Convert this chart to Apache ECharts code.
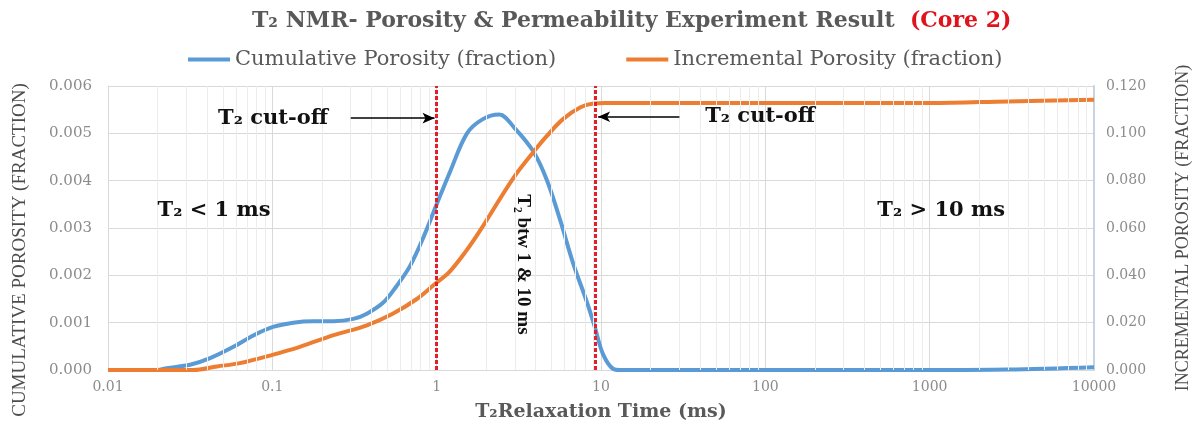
<!DOCTYPE html>
<html>
<head>
<meta charset="utf-8">
<script src="https://cdn.jsdelivr.net/npm/echarts@6/dist/echarts.min.js"></script>
<style>
  html, body { margin: 0; padding: 0; background: #fff; }
  #chart { width: 1201px; height: 427px; }
</style>
</head>
<body>
<div id="chart"></div>
<script>
// T2 relaxation time (ms) and porosity readings
const cumX = [0.01, 0.02, 0.0228, 0.0316, 0.0418, 0.058, 0.0766, 0.101, 0.134, 0.178, 0.236, 0.311, 0.376, 0.475, 0.572, 0.689, 0.83, 1.0, 1.21, 1.53, 1.91, 2.4, 3.0, 3.87, 4.7, 5.64, 6.76, 8.22, 9.2, 10.3, 11.9, 13, 100, 1000, 3000, 10000];
const cumY = [0, 0, 0.00004, 0.00011, 0.00025, 0.00049, 0.00073, 0.00091, 0.00100, 0.00103, 0.00103, 0.00108, 0.00119, 0.00143, 0.00178, 0.0022, 0.0028, 0.0035, 0.0042, 0.0050, 0.0053, 0.0054, 0.0051, 0.00462, 0.0040, 0.00317, 0.00226, 0.00143, 0.00089, 0.00033, 0.00002, 0, 0, 0, 0.00001, 0.00006, 0.00008];

const incX = [0.01, 0.033, 0.046, 0.0635, 0.1, 0.147, 0.236, 0.376, 0.54, 0.757, 1.0, 1.18, 1.5, 1.84, 2.92, 3.87, 4.7, 5.87, 7.5, 9.0, 10.5, 100, 1000, 3000, 10000];
const incY = [0, 0, 0.0015, 0.0029, 0.0064, 0.0098, 0.0147, 0.0189, 0.0238, 0.030, 0.037, 0.041, 0.050, 0.059, 0.081, 0.092, 0.099, 0.106, 0.111, 0.1126, 0.1128, 0.1128, 0.1128, 0.1135, 0.1142];

const legendNames = ["Cumulative Porosity (fraction)", "Incremental Porosity (fraction)"];
const cutoffs = [1, 9.2];

// minor log grid lines (2..9 in each decade)
const minorLines = [];
for (let d = -2; d < 4; d++) {
  for (let k = 2; k <= 9; k++) minorLines.push({ xAxis: k * Math.pow(10, d) });
}

const chart = echarts.init(document.getElementById("chart"));
const serif = "DejaVu Serif";
const pairs = (xs, ys) => xs.map((x, i) => [x, ys[i]]);

const option = {
  animation: false,
  backgroundColor: "#fff",
  title: {
    text: "T\u2082 NMR- Porosity & Permeability Experiment Result  {r|(Core 2)}",
    left: 247,
    top: 5,
    textStyle: {
      fontFamily: serif,
      fontSize: 22,
      fontWeight: "bold",
      color: "#595959",
      rich: {
        r: { fontFamily: serif, fontSize: 22, fontWeight: "bold", color: "#e0121b" },
      },
    },
  },
  legend: {
    data: legendNames,
    left: 183,
    top: 44,
    icon: "rect",
    itemWidth: 42,
    itemHeight: 4,
    itemGap: 70,
    textStyle: { fontFamily: serif, fontSize: 21, color: "#595959" },
  },
  grid: { left: 108, right: 107, top: 86, bottom: 52 },
  xAxis: {
    type: "log",
    logBase: 10,
    min: 0.01,
    max: 10000,
    name: "T\u2082Relaxation Time (ms)",
    nameLocation: "middle",
    nameGap: 33,
    nameTextStyle: { fontFamily: serif, fontSize: 19, fontWeight: "bold", color: "#595959" },
    axisLine: { lineStyle: { color: "#d9d9d9" } },
    axisTick: { show: false },
    axisLabel: {
      fontFamily: serif,
      fontSize: 14,
      color: "#8c8c8c",
      margin: 10,
      formatter: (v) => String(+Number(v).toPrecision(6)),
    },
    splitLine: { show: true, lineStyle: { color: "#d9d9d9" } },
  },
  yAxis: [
    {
      type: "value",
      min: 0,
      max: 0.006,
      interval: 0.001,
      name: "CUMULATIVE POROSITY (FRACTION)",
      nameLocation: "middle",
      nameGap: 78,
      nameTextStyle: { fontFamily: "Liberation Serif", fontSize: 19, color: "#4d4d4d", padding: [0, 44, 0, 0] },
      axisLine: { show: true, lineStyle: { color: "#d9d9d9" } },
      axisTick: { show: false },
      axisLabel: { fontFamily: serif, fontSize: 15, color: "#8c8c8c", margin: 16, formatter: (v) => v.toFixed(3) },
      splitLine: { lineStyle: { color: "#d9d9d9" } },
    },
    {
      type: "value",
      min: 0,
      max: 0.12,
      interval: 0.02,
      name: "INCREMENTAL POROSITY (FRACTION)",
      nameLocation: "middle",
      nameGap: 80,
      nameRotate: 90,
      nameTextStyle: { fontFamily: "Liberation Serif", fontSize: 18, color: "#4d4d4d" },
      axisLine: { show: true, lineStyle: { color: "#c9d3e0", width: 2 } },
      axisTick: { show: false },
      axisLabel: { fontFamily: serif, fontSize: 14, color: "#8c8c8c", margin: 12, formatter: (v) => v.toFixed(3) },
      splitLine: { show: false },
    },
  ],
  series: [
    {
      name: "grid-minor",
      type: "line",
      data: [],
      silent: true,
      z: 1,
      markLine: {
        silent: true,
        symbol: ["none", "none"],
        label: { show: false },
        lineStyle: { color: "#ececec", type: "solid", width: 1 },
        data: minorLines,
      },
    },
    {
      name: legendNames[0],
      type: "line",
      yAxisIndex: 0,
      data: pairs(cumX, cumY),
      smooth: 0.35,
      showSymbol: false,
      lineStyle: { color: "#5b9bd5", width: 4 },
      itemStyle: { color: "#5b9bd5" },
      z: 3,
    },
    {
      name: legendNames[1],
      type: "line",
      yAxisIndex: 1,
      data: pairs(incX, incY),
      smooth: 0.35,
      showSymbol: false,
      lineStyle: { color: "#ed7d31", width: 4 },
      itemStyle: { color: "#ed7d31" },
      z: 3,
    },
    {
      name: "annotations",
      type: "line",
      yAxisIndex: 0,
      data: [],
      z: 5,
      markLine: {
        silent: true,
        symbol: ["none", "none"],
        label: { show: false },
        data: [
          { xAxis: cutoffs[0], lineStyle: { color: "#e0202a", type: [4, 2], width: 3 } },
          { xAxis: cutoffs[1], lineStyle: { color: "#e0202a", type: [4, 2], width: 3 } },
          [
            { coord: [0.3, 0.00532], lineStyle: { color: "#000", type: "solid", width: 1.5 } },
            { coord: [0.97, 0.00532], symbol: "arrow", symbolSize: [8, 12] },
          ],
          [
            { coord: [30, 0.00535], lineStyle: { color: "#000", type: "solid", width: 1.5 } },
            { coord: [9.6, 0.00535], symbol: "arrow", symbolSize: [8, 12] },
          ],
        ],
      },
      markPoint: {
        silent: true,
        symbol: "circle",
        symbolSize: 0,
        label: { show: true, fontFamily: serif, fontWeight: "bold", fontSize: 21, color: "#111" },
        data: [
          { coord: [0.101, 0.00532], value: "T\u2082 cut-off" },
          { coord: [93, 0.00535], value: "T\u2082 cut-off" },
          { coord: [0.0442, 0.00337], value: "T\u2082 < 1 ms" },
          { coord: [1175, 0.00337], value: "T\u2082 > 10 ms" },
          {
            coord: [3.36, 0.00223],
            value: "T\u2082 btw 1 & 10 ms",
            label: { rotate: -90, fontFamily: "Liberation Serif", fontSize: 19 },
          },
        ],
      },
    },
  ],
};

chart.setOption(option);
</script>
</body>
</html>
